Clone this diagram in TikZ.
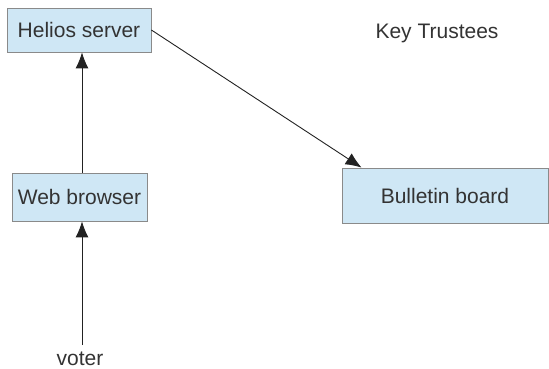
\documentclass[tikz,border=0pt]{standalone}
\usepackage{fontspec}
\setmainfont{Liberation Sans}
\usetikzlibrary{arrows.meta}
\definecolor{boxfill}{HTML}{CFE7F5}
\definecolor{boxline}{HTML}{8A8A8A}
\definecolor{txt}{HTML}{333333}
\definecolor{lin}{HTML}{222222}
\begin{document}
\begin{tikzpicture}[x=1pt,y=-1pt,
  box/.style={draw=boxline,fill=boxfill,line width=0.8pt,inner sep=0pt,text=txt,font=\fontsize{21}{25}\selectfont},
  lbl/.style={inner sep=0pt,text=txt,font=\fontsize{21}{25}\selectfont},
  conn/.style={draw=lin,line width=0.9pt,-{Latex[length=16pt,width=13pt]}}]
\useasboundingbox (0,0) rectangle (549,368);
\node[box,minimum width=144pt,minimum height=44pt] (hel) at (79,30) {Helios server};
\node[box,minimum width=135pt,minimum height=48pt] (wb) at (79.5,197) {Web browser};
\node[box,minimum width=206pt,minimum height=55pt] (bb) at (445,195.5) {Bulletin board};
\node[lbl] (kt) at (437,33) {Key Trustees};
\node[lbl,anchor=base] (voter) at (80,365) {voter};
\coordinate (vtop) at (82,345);
\draw[conn] ([xshift=2.5pt]wb.north) -- ([xshift=3pt]hel.south);
\draw[conn] (vtop) -- ([xshift=2.5pt]wb.south);
\draw[conn] (hel.east) -- ([xshift=20pt]bb.north west);
\end{tikzpicture}
\end{document}
